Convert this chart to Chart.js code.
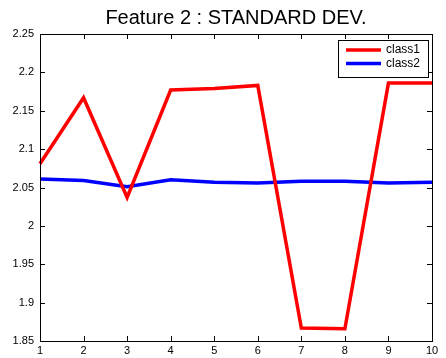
<!DOCTYPE html>
<html>
<head>
<meta charset="utf-8">
<script src="https://cdn.jsdelivr.net/npm/chart.js@4.4.1/dist/chart.umd.min.js"></script>
<style>
  html, body { margin: 0; padding: 0; background: #fff; }
  #wrap { width: 446px; height: 358px; }
</style>
</head>
<body>
<div id="wrap"><canvas id="c" width="446" height="358"></canvas></div>
<script>
// Per-feature standard deviation for two classes over ten samples
const xLabels = ['1', '2', '3', '4', '5', '6', '7', '8', '9', '10'];
const class1 = [2.081, 2.167, 2.037, 2.177, 2.179, 2.183, 1.867, 1.866, 2.186, 2.186];
const class2 = [2.061, 2.059, 2.051, 2.060, 2.057, 2.056, 2.058, 2.058, 2.056, 2.057];
const yTickValues = [1.85, 1.9, 1.95, 2, 2.05, 2.1, 2.15, 2.2, 2.25];

const FONT = '"Liberation Sans", Arial, sans-serif';

// MATLAB-style frame: box on all four sides with inward ticks
const frameTicks = {
  id: 'frameTicks',
  afterDatasetsDraw(chart) {
    const { ctx, chartArea: a, scales } = chart;
    const L = 5;
    ctx.save();
    ctx.strokeStyle = '#000';
    ctx.lineWidth = 1;
    ctx.beginPath();
    scales.x.ticks.forEach((t, i) => {
      const px = Math.round(scales.x.getPixelForTick(i)) + 0.5;
      ctx.moveTo(px, a.bottom); ctx.lineTo(px, a.bottom - L);
      ctx.moveTo(px, a.top); ctx.lineTo(px, a.top + L);
    });
    scales.y.ticks.forEach((t, i) => {
      const py = Math.round(scales.y.getPixelForTick(i)) + 0.5;
      ctx.moveTo(a.left, py); ctx.lineTo(a.left + L, py);
      ctx.moveTo(a.right, py); ctx.lineTo(a.right - L, py);
    });
    ctx.stroke();
    ctx.strokeRect(Math.round(a.left) + 0.5, Math.round(a.top) + 0.5,
                   Math.round(a.right - a.left), Math.round(a.bottom - a.top));
    ctx.restore();
  }
};

// Boxed legend in the upper right corner
const boxLegend = {
  id: 'boxLegend',
  afterDraw(chart) {
    const { ctx, chartArea: a } = chart;
    const w = 90, h = 37;
    const x0 = a.right - 4 - w, y0 = a.top + 6;
    ctx.save();
    ctx.fillStyle = '#fff';
    ctx.fillRect(x0, y0, w, h);
    ctx.strokeStyle = '#000';
    ctx.lineWidth = 1;
    ctx.strokeRect(Math.round(x0) + 0.5, Math.round(y0) + 0.5, w, h);
    ctx.font = '12px ' + FONT;
    ctx.textBaseline = 'middle';
    ctx.fillStyle = '#000';
    chart.data.datasets.forEach((ds, i) => {
      const yy = y0 + 10 + i * 13.5;
      ctx.strokeStyle = ds.borderColor;
      ctx.lineWidth = 3.5;
      ctx.beginPath();
      ctx.moveTo(x0 + 8, yy); ctx.lineTo(x0 + 43, yy);
      ctx.stroke();
      ctx.fillText(ds.label, x0 + 48, yy);
    });
    ctx.restore();
  }
};

new Chart(document.getElementById('c'), {
  type: 'line',
  data: {
    labels: xLabels,
    datasets: [
      { label: 'class1', data: class1, borderColor: '#ff0000', borderWidth: 3.5, pointRadius: 0, tension: 0, fill: false },
      { label: 'class2', data: class2, borderColor: '#0000ff', borderWidth: 3.5, pointRadius: 0, tension: 0, fill: false }
    ]
  },
  options: {
    responsive: false,
    animation: false,
    devicePixelRatio: 1,
    layout: { padding: { left: 0, right: 14, top: 0, bottom: 0 } },
    plugins: {
      legend: { display: false },
      tooltip: { enabled: false },
      title: {
        display: true,
        fullSize: false,
        text: 'Feature 2 : STANDARD DEV.',
        color: '#000',
        font: { family: FONT, size: 20, weight: 'normal' },
        padding: { top: 6, bottom: 4 }
      }
    },
    scales: {
      x: {
        type: 'category',
        offset: false,
        grid: { display: false, drawTicks: false },
        border: { display: false },
        ticks: { color: '#000', font: { family: FONT, size: 11 }, padding: 3, maxRotation: 0, autoSkip: false },
        afterFit(s) { s.height = 17; }
      },
      y: {
        min: 1.85,
        max: 2.25,
        grid: { display: false, drawTicks: false },
        border: { display: false },
        afterBuildTicks(s) { s.ticks = yTickValues.map(v => ({ value: v })); },
        ticks: {
          color: '#000',
          font: { family: FONT, size: 11 },
          padding: 6,
          callback: v => String(+Number(v).toFixed(2))
        },
        afterFit(s) { s.width = 40; }
      }
    }
  },
  plugins: [frameTicks, boxLegend]
});
</script>
</body>
</html>
